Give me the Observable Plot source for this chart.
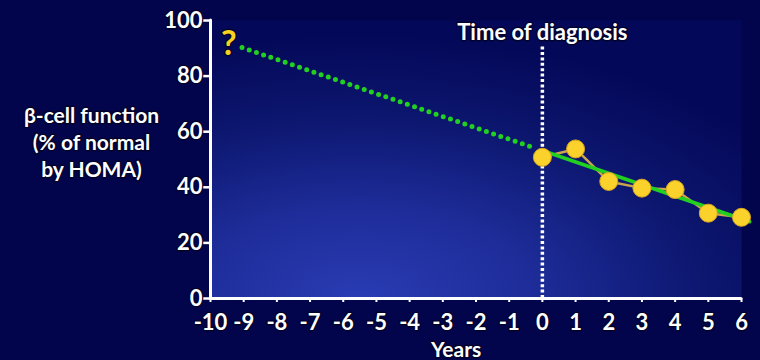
<!DOCTYPE html>
<html>
<head>
<meta charset="utf-8">
<script src="https://cdn.jsdelivr.net/npm/d3@7"></script>
<script src="https://cdn.jsdelivr.net/npm/@observablehq/plot@0.6"></script>
<style>
  html, body { margin: 0; padding: 0; background: #03054c; }
  #chart svg text {
    stroke: rgba(0, 0, 20, 0.6);
    stroke-width: 3px;
    paint-order: stroke;
    stroke-linejoin: round;
  }
</style>
</head>
<body>
<div id="chart"></div>
<script>
// ---- data ----
const years = [0, 1, 2, 3, 4, 5, 6];
const betaCell = [50.8, 53.8, 42.1, 39.7, 39.2, 30.7, 29.2];

// extrapolated (dotted) and fitted (solid) trend, endpoints as read
const trendPreYears = [-9.05, -0.3];
const trendPreValues = [90.3, 54.4];
const trendPostYears = [0.15, 6.25];
const trendPostValues = [52.6, 27.6];

// diagnosis marker
const diagnosisYear = [0];
const diagnosisTop = [91];

// question mark position
const questionYear = [-9.45];
const questionValue = [91.5];

// tick labels
const xTicks = [-10, -9, -8, -7, -6, -5, -4, -3, -2, -1, 0, 1, 2, 3, 4, 5, 6];
const yTicks = [0, 20, 40, 60, 80, 100];

// texts
const titleText = ["Time of diagnosis"];
const yLabelLines = ["β-cell function", "(% of normal", "by HOMA)"];
const xLabelText = ["Years"];
const questionText = ["?"];

// ---- build tables ----
const points = years.map((x, i) => ({x, y: betaCell[i]}));
const pre = trendPreYears.map((x, i) => ({x, y: trendPreValues[i]}));
const post = trendPostYears.map((x, i) => ({x, y: trendPostValues[i]}));

const font = "Lato, 'Liberation Sans', Arial, sans-serif";

const chart = Plot.plot({
  width: 760,
  height: 360,
  marginLeft: 210,
  marginRight: 19,
  marginTop: 20,
  marginBottom: 62,
  style: {background: "transparent", color: "white", fontFamily: font, fontWeight: "bold", fontSize: "21px", overflow: "visible"},
  x: {domain: [-10, 6], label: null},
  y: {domain: [0, 100], label: null},
  marks: [
    Plot.frame({fill: "url(#plotBg)", stroke: null}),
    // diagnosis dotted line
    Plot.ruleX(diagnosisYear, {x: d => d, y1: 0, y2: diagnosisTop[0], stroke: "white", strokeWidth: 3.5, strokeDasharray: "3 2.4"}),
    // extrapolated dotted trend
    Plot.line(pre, {x: "x", y: "y", stroke: "#22d022", strokeWidth: 5, strokeDasharray: "0 7.6", strokeLinecap: "round"}),
    // observed connecting line
    Plot.line(points, {x: "x", y: "y", stroke: "#c9a64e", strokeWidth: 2.5}),
    // fitted solid trend
    Plot.line(post, {x: "x", y: "y", stroke: "#22d022", strokeWidth: 3.5}),
    // observed points
    Plot.dot(points, {x: "x", y: "y", r: 9, fill: "#fbd22c", stroke: "#d7a520", strokeWidth: 1}),
    // axes
    Plot.ruleX([-10], {stroke: "white", strokeWidth: 3, strokeLinecap: "round"}),
    Plot.ruleY([0], {stroke: "white", strokeWidth: 3, strokeLinecap: "round"}),
    Plot.axisX({ticks: xTicks, tickFormat: d => String(d), tickSize: 4, tickPadding: 12, stroke: "white", strokeWidth: 2, fill: "white", fontSize: 22, fontWeight: "bold", label: null}),
    Plot.axisY({ticks: yTicks, tickFormat: d => String(d), tickSize: 7, tickPadding: 1, stroke: "white", strokeWidth: 2.5, fill: "white", fontSize: 22, fontWeight: "bold", label: null}),
    // texts
    Plot.text(titleText, {x: diagnosisYear[0], y: 95.5, text: d => d, fill: "white", fontSize: 22, fontWeight: "bold", lineAnchor: "middle"}),
    Plot.text([yLabelLines.join("\n")], {frameAnchor: "left", y: 56.5, dx: -119, text: d => d, fill: "white", fontSize: 21, fontWeight: "bold", textAnchor: "middle", lineAnchor: "middle", lineHeight: 1.3}),
    Plot.text(xLabelText, {x: -2.6, frameAnchor: "bottom", dy: 52, text: d => d, fill: "white", fontSize: 21, fontWeight: "bold", lineAnchor: "middle"}),
    Plot.text(questionText, {x: questionYear[0], y: questionValue[0], text: d => d, fill: "#f6d21e", fontSize: 34, fontWeight: "bold", lineAnchor: "middle"})
  ]
});

// gradient background for the plotting area
const svg = d3.select(chart);
const defs = svg.insert("defs", ":first-child");
const grad = defs.append("radialGradient")
  .attr("id", "plotBg")
  .attr("cx", 0.28).attr("cy", 1.0).attr("r", 0.95)
  .attr("fx", 0.28).attr("fy", 1.0);
[["0", "#2a3cb4"], ["0.35", "#1d2c98"], ["0.7", "#0c166e"], ["1", "#040858"]]
  .forEach(([o, c]) => grad.append("stop").attr("offset", o).attr("stop-color", c));

document.getElementById("chart").appendChild(chart);
</script>
</body>
</html>
